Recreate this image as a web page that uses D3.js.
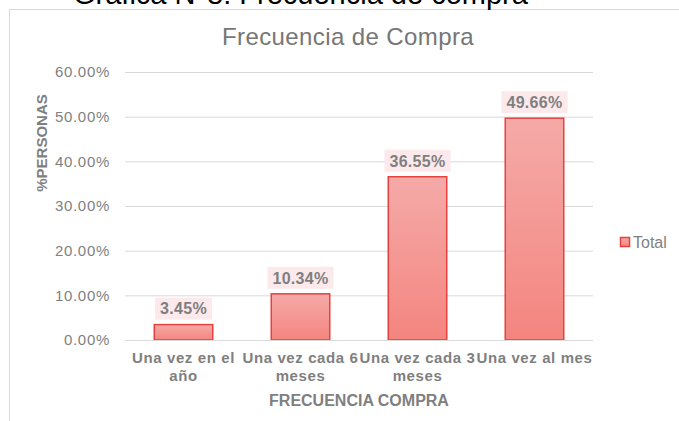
<!DOCTYPE html>
<html>
<head>
<meta charset="utf-8">
<script src="https://cdn.jsdelivr.net/npm/d3@7"></script>
<style>
  body { margin: 0; background: #fff; }
  svg { display: block; font-family: "Liberation Sans", Arial, sans-serif; }
</style>
</head>
<body>
<svg id="chart" width="679" height="421"></svg>
<script>
const categories = [
  ["Una vez en el", "año"],
  ["Una vez cada 6", "meses"],
  ["Una vez cada 3", "meses"],
  ["Una vez al mes"],
];
const values = [3.45, 10.34, 36.55, 49.66];
const yTicks = [0, 10, 20, 30, 40, 50, 60];
const seriesName = "Total";

const svg = d3.select("#chart");
const margin = { top: 72, right: 86, bottom: 81, left: 125 };
const width = 679, height = 421;
const innerWidth = width - margin.left - margin.right;
const innerHeight = height - margin.top - margin.bottom;

// gradient for bars
const defs = svg.append("defs");
const grad = defs.append("linearGradient")
  .attr("id", "barGrad").attr("x1", 0).attr("y1", 0).attr("x2", 0).attr("y2", 1);
grad.append("stop").attr("offset", "0%").attr("stop-color", "#f5aaa8");
grad.append("stop").attr("offset", "100%").attr("stop-color", "#f4857f");

// outer frame + header
svg.append("rect")
  .attr("x", 9.5).attr("y", 9.5).attr("width", 700).attr("height", 430)
  .attr("fill", "none").attr("stroke", "#d9d9d9");

svg.append("text")
  .attr("x", 73).attr("y", 4)
  .attr("font-size", 29).attr("fill", "#000")
  .text("Gráfica N°8: Frecuencia de compra");

svg.append("text")
  .attr("x", 348).attr("y", 45)
  .attr("text-anchor", "middle")
  .attr("font-size", 24).attr("letter-spacing", 0.4)
  .attr("fill", "#767676")
  .text("Frecuencia de Compra");

const x = d3.scaleBand()
  .domain(d3.range(values.length))
  .range([0, innerWidth])
  .paddingInner(0.5).paddingOuter(0.25);

const y = d3.scaleLinear()
  .domain([0, 60])
  .range([innerHeight, 0]);

const g = svg.append("g")
  .attr("transform", `translate(${margin.left}, ${margin.top})`);

// y axis with gridlines
const yAxis = d3.axisLeft(y)
  .tickValues(yTicks)
  .tickSize(-innerWidth)
  .tickPadding(15)
  .tickFormat((d) => d.toFixed(2) + "%");

g.append("g")
  .attr("class", "y-axis")
  .call(yAxis)
  .call((ax) => ax.select(".domain").remove())
  .call((ax) => ax.selectAll("line").attr("stroke", "#d9d9d9"))
  .call((ax) => ax.selectAll("text")
    .attr("fill", "#7f7f7f").attr("font-size", 15).attr("letter-spacing", 0.7)
    .attr("font-family", "Liberation Sans, Arial, sans-serif"));

// bars
g.append("g")
  .selectAll("rect")
  .data(values)
  .join("rect")
  .attr("x", (d, i) => x(i))
  .attr("y", (d) => y(d))
  .attr("width", x.bandwidth())
  .attr("height", (d) => innerHeight - y(d))
  .attr("fill", "url(#barGrad)")
  .attr("stroke", "#e5413d")
  .attr("stroke-width", 1.5);

// data labels
const labels = g.append("g")
  .selectAll("g")
  .data(values)
  .join("g")
  .attr("transform", (d, i) => `translate(${x(i) + x.bandwidth() / 2}, ${y(d) - 16})`);

labels.append("text")
  .attr("text-anchor", "middle")
  .attr("dy", "0.36em")
  .attr("font-size", 16).attr("font-weight", "bold").attr("letter-spacing", 0.3)
  .attr("fill", "#7f7f7f")
  .text((d) => d.toFixed(2) + "%");

labels.insert("rect", "text")
  .each(function () {
    const w = this.parentNode.querySelector("text").getComputedTextLength() + 10;
    d3.select(this).attr("x", -w / 2).attr("width", w);
  })
  .attr("y", -11).attr("height", 22)
  .attr("fill", "#fce9ec");

// x axis line
g.append("line")
  .attr("x1", 0).attr("x2", innerWidth)
  .attr("y1", innerHeight + 0.5).attr("y2", innerHeight + 0.5)
  .attr("stroke", "#d9d9d9");

// category labels
const xl = g.append("g")
  .selectAll("text")
  .data(categories)
  .join("text")
  .attr("text-anchor", "middle")
  .attr("font-size", 15).attr("font-weight", "bold")
  .attr("letter-spacing", 0.6)
  .attr("fill", "#7f7f7f")
  .attr("transform", (d, i) => `translate(${x(i) + x.bandwidth() / 2}, ${innerHeight + 23})`);

xl.selectAll("tspan")
  .data((d) => d)
  .join("tspan")
  .attr("x", 0)
  .attr("dy", (d, j) => (j === 0 ? 0 : 18))
  .text((d) => d);

// axis titles
g.append("text")
  .attr("x", innerWidth / 2).attr("y", innerHeight + 66)
  .attr("text-anchor", "middle")
  .attr("font-size", 16).attr("font-weight", "bold")
  .attr("fill", "#7f7f7f")
  .text("FRECUENCIA COMPRA");

svg.append("text")
  .attr("transform", `translate(47, ${margin.top + 71}) rotate(-90)`)
  .attr("text-anchor", "middle")
  .attr("font-size", 15).attr("font-weight", "bold")
  .attr("fill", "#7f7f7f")
  .text("%PERSONAS");

// legend
const legend = svg.append("g").attr("transform", "translate(620, 242)");
legend.append("rect")
  .attr("x", 0.5).attr("y", -4.5).attr("width", 9).attr("height", 9)
  .attr("fill", "url(#barGrad)").attr("stroke", "#e5413d").attr("stroke-width", 1.5);
legend.append("text")
  .attr("x", 13).attr("dy", "0.36em")
  .attr("font-size", 16).attr("fill", "#7f7f7f")
  .text(seriesName);
</script>
</body>
</html>
